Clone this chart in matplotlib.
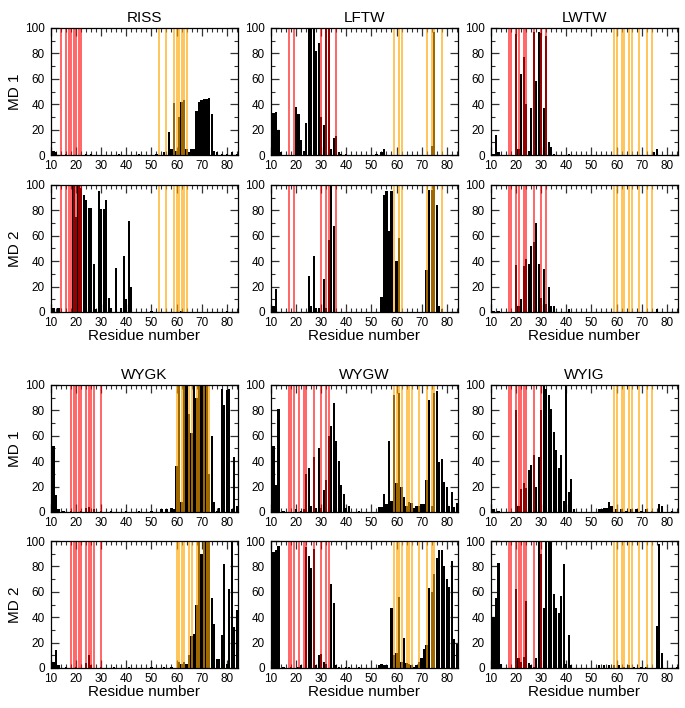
import numpy as np
import matplotlib.pyplot as plt
from matplotlib.ticker import MultipleLocator

plt.rcParams['font.family'] = ['Liberation Sans', 'DejaVu Sans']

residues = np.arange(10, 85)
peptides = ["RISS", "LFTW", "LWTW", "WYGK", "WYGW", "WYIG"]

# marked residues (red = first site, orange = second site)
red_res = {
    "RISS": [10, 14, 16, 17, 18, 19, 20, 21, 22],
    "LFTW": [17, 19, 30, 32, 33, 36],
    "LWTW": [17, 18, 20, 21, 23, 24, 27, 30, 32],
    "WYGK": [18, 19, 20, 21, 22, 24, 25, 26, 27, 30],
    "WYGW": [17, 18, 19, 21, 23, 24, 27, 30, 32, 33],
    "WYIG": [17, 18, 20, 21, 22, 23, 24, 27, 30],
}
orange_res = {
    "RISS": [53, 56, 59, 60, 61, 62, 63, 64],
    "LFTW": [59, 61, 62, 72, 74, 75, 78],
    "LWTW": [59, 60, 62, 63, 65, 66, 69, 72, 74],
    "WYGK": [60, 61, 62, 63, 65, 66, 68, 69, 71, 72, 73],
    "WYGW": [59, 60, 61, 62, 64, 65, 66, 69, 72, 74, 75],
    "WYIG": [59, 60, 62, 63, 65, 66, 69, 72, 74],
}

# contact frequency (%) per residue, only non-zero residues listed
riss_md1 = {10: 2, 11: 3, 12: 2, 16: 1, 24: 1, 26: 1, 37: 1, 45: 1, 52: 1, 55: 2,
            57: 18, 58: 5, 59: 41, 60: 3, 61: 30, 62: 42, 63: 43, 64: 5, 65: 2,
            66: 5, 67: 5, 68: 35, 69: 42, 70: 43, 71: 44, 72: 44, 73: 45, 74: 32,
            75: 3, 76: 2, 78: 1, 80: 1, 82: 2, 84: 1}
riss_md2 = {10: 2, 11: 3, 13: 3, 19: 100, 20: 75, 21: 100, 22: 98, 23: 92, 24: 88,
            25: 82, 26: 82, 27: 38, 28: 2, 29: 95, 30: 81, 31: 81, 32: 88, 33: 11,
            34: 3, 36: 35, 38: 3, 39: 44, 40: 10, 41: 72, 42: 20, 50: 1, 62: 1, 80: 1}
lftw_md1 = {11: 33, 12: 34, 13: 20, 14: 2, 20: 38, 21: 32, 22: 12, 23: 3, 24: 25,
            25: 100, 26: 100, 27: 100, 28: 82, 29: 88, 30: 30, 31: 24, 32: 100,
            33: 100, 34: 5, 35: 13, 36: 15, 37: 2, 38: 1, 40: 1, 52: 1, 54: 2, 55: 5,
            74: 7, 75: 97}
lftw_md2 = {11: 5, 12: 18, 25: 28, 26: 5, 27: 44, 28: 3, 29: 3, 31: 26, 32: 3,
            33: 57, 34: 100, 35: 68, 54: 12, 55: 92, 56: 95, 57: 64, 58: 95, 60: 40,
            61: 58, 72: 33, 73: 96, 74: 96, 75: 100, 76: 84, 77: 5, 78: 2}
lwtw_md1 = {11: 1, 12: 16, 13: 2, 20: 95, 21: 5, 22: 64, 23: 77, 24: 40, 25: 3,
            26: 37, 27: 97, 28: 58, 29: 97, 30: 96, 31: 37, 32: 94, 33: 10, 34: 6,
            35: 1, 41: 1, 75: 2, 76: 5}
lwtw_md2 = {11: 1, 13: 1, 20: 37, 21: 5, 22: 10, 23: 36, 24: 42, 25: 38, 26: 52,
            27: 55, 28: 70, 29: 38, 30: 11, 31: 34, 32: 6, 33: 20, 34: 5, 35: 5,
            41: 2, 76: 2}
wygk_md1 = {10: 30, 11: 52, 12: 13, 13: 2, 15: 1, 18: 1, 22: 1, 24: 3, 25: 4, 27: 2,
            30: 1, 34: 1, 40: 1, 45: 1, 50: 1, 54: 2, 56: 2, 58: 3, 59: 2, 60: 36,
            61: 100, 62: 8, 63: 100, 64: 100, 65: 77, 66: 62, 67: 100, 68: 90,
            69: 100, 70: 100, 71: 100, 72: 100, 73: 30, 74: 60, 75: 8, 76: 1, 77: 3,
            78: 97, 79: 84, 80: 96, 81: 97, 82: 2, 83: 43, 84: 5}
wygk_md2 = {10: 5, 11: 5, 12: 14, 13: 2, 16: 1, 20: 1, 24: 4, 25: 10, 26: 2, 30: 1,
            35: 1, 41: 1, 50: 1, 55: 1, 58: 1, 61: 5, 62: 3, 63: 5, 64: 3, 65: 10,
            66: 25, 67: 27, 68: 50, 69: 100, 70: 90, 71: 100, 72: 100, 73: 100,
            74: 55, 75: 35, 76: 7, 77: 7, 78: 26, 79: 82, 80: 3, 81: 62, 82: 100,
            83: 32, 84: 46}
wygw_md1 = {11: 52, 12: 21, 13: 81, 15: 1, 20: 2, 22: 1, 23: 2, 24: 30, 25: 35,
            26: 5, 27: 43, 28: 3, 29: 50, 30: 3, 31: 17, 32: 25, 33: 60, 34: 68,
            35: 86, 36: 56, 37: 40, 38: 21, 39: 14, 40: 3, 41: 5, 45: 1, 53: 4, 54: 4,
            55: 14, 56: 6, 57: 56, 58: 9, 59: 92, 60: 23, 61: 94, 62: 20, 63: 12,
            64: 5, 65: 8, 66: 7, 67: 3, 68: 5, 69: 5, 70: 6, 71: 6, 72: 25, 73: 88,
            74: 5, 75: 94, 76: 95, 77: 39, 78: 42, 79: 24, 80: 20, 81: 5, 82: 16,
            83: 4, 84: 7}
wygw_md2 = {11: 91, 12: 93, 13: 96, 15: 1, 18: 1, 21: 1, 22: 2, 24: 95, 25: 88,
            26: 79, 27: 94, 28: 2, 29: 10, 30: 11, 31: 5, 32: 3, 34: 66, 35: 51,
            36: 2, 37: 1, 40: 1, 41: 1, 45: 1, 53: 2, 54: 3, 55: 2, 56: 2, 58: 47,
            59: 10, 60: 12, 61: 56, 62: 5, 63: 24, 64: 4, 65: 3, 66: 2, 67: 1, 68: 2,
            69: 5, 70: 8, 71: 15, 72: 18, 73: 63, 74: 60, 75: 74, 76: 87, 77: 93,
            78: 93, 79: 80, 80: 70, 81: 64, 82: 84, 83: 23, 84: 19}
wyig_md1 = {11: 2, 13: 1, 20: 80, 21: 5, 22: 18, 23: 23, 24: 19, 25: 33, 26: 37,
            27: 45, 28: 20, 29: 43, 30: 80, 31: 100, 32: 97, 33: 92, 34: 81, 35: 63,
            36: 49, 37: 35, 38: 45, 39: 9, 40: 100, 41: 16, 42: 26, 43: 2, 53: 2,
            54: 2, 55: 3, 56: 3, 57: 8, 58: 5, 60: 2, 62: 2, 64: 1, 66: 2, 68: 2,
            70: 1, 72: 2, 74: 1, 77: 6, 78: 5, 82: 1}
wyig_md2 = {11: 40, 12: 55, 13: 83, 14: 3, 20: 62, 21: 8, 22: 5, 23: 9, 24: 53,
            25: 4, 26: 2, 27: 1, 28: 8, 29: 100, 30: 90, 31: 47, 32: 100, 33: 100,
            34: 100, 35: 58, 36: 47, 37: 43, 38: 57, 39: 82, 40: 3, 41: 26, 42: 2,
            53: 2, 55: 2, 57: 2, 59: 2, 61: 2, 63: 1, 65: 2, 67: 1, 70: 1, 72: 1,
            76: 33, 77: 98, 78: 12, 84: 1}

md_data = {
    "RISS": [riss_md1, riss_md2],
    "LFTW": [lftw_md1, lftw_md2],
    "LWTW": [lwtw_md1, lwtw_md2],
    "WYGK": [wygk_md1, wygk_md2],
    "WYGW": [wygw_md1, wygw_md2],
    "WYIG": [wyig_md1, wyig_md2],
}

fig = plt.figure(figsize=(6.85, 7.08), dpi=100)
W, H = 685.0, 708.0
col_left = [51, 271, 491]
row_top = [28, 185, 385, 541]
aw, ah = 187, 127

for i, pep in enumerate(peptides):
    col = i % 3
    grp = i // 3
    for md in range(2):
        r = grp * 2 + md
        ax = fig.add_axes([col_left[col] / W, 1 - (row_top[r] + ah) / H, aw / W, ah / H])
        d = md_data[pep][md]
        vals = np.array([d.get(x, 0) for x in residues])
        ax.bar(residues, vals, width=0.9, color="black", zorder=2)
        for x in red_res[pep]:
            ax.axvline(x, color="red", lw=1.2, alpha=0.7, zorder=3)
        for x in orange_res[pep]:
            ax.axvline(x, color="orange", lw=1.2, alpha=0.75, zorder=3)
        ax.set_xlim(10, 84.5)
        ax.set_ylim(0, 100)
        ax.xaxis.set_major_locator(MultipleLocator(10))
        ax.xaxis.set_minor_locator(MultipleLocator(2))
        ax.yaxis.set_major_locator(MultipleLocator(20))
        ax.yaxis.set_minor_locator(MultipleLocator(10))
        ax.tick_params(which="both", direction="in", top=True, right=True,
                       labelsize=8.5, color="#333333")
        ax.tick_params(axis="x", pad=3.5)
        ax.tick_params(axis="y", pad=4.5)
        ax.tick_params(which="major", length=5.5, width=0.9)
        ax.tick_params(which="minor", length=3, width=0.8)
        for sp in ax.spines.values():
            sp.set_linewidth(0.9)
            sp.set_zorder(5)
        if md == 0:
            ax.set_title(pep, fontsize=11, pad=4)
        else:
            ax.set_xlabel("Residue number", fontsize=11, labelpad=0)
        if col == 0:
            ax.set_ylabel("MD %d" % (md + 1), fontsize=11, labelpad=2)

fig.savefig("out.png", dpi=100)
